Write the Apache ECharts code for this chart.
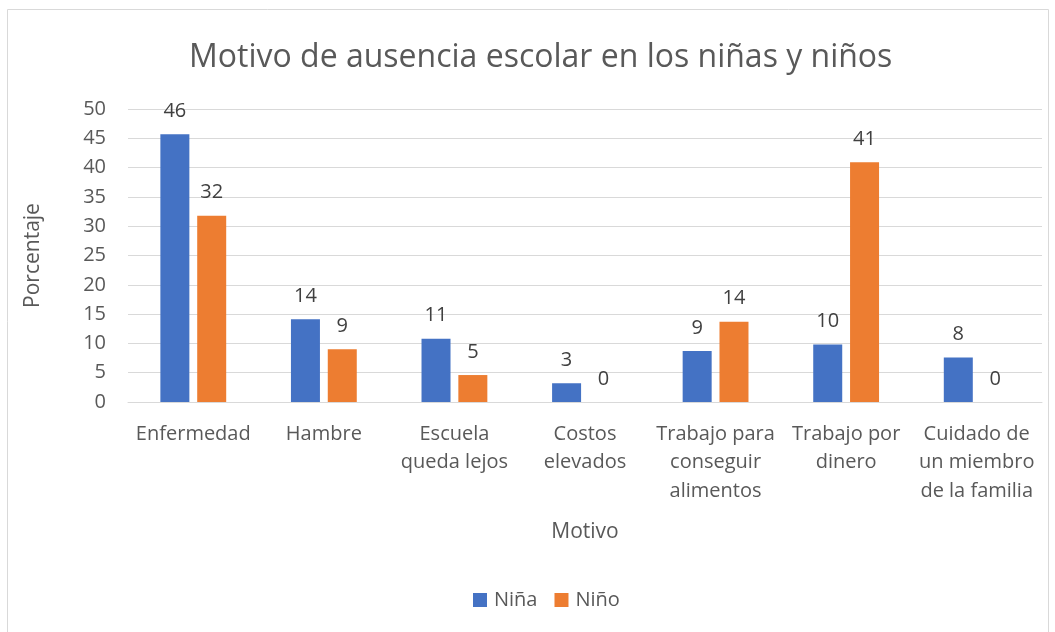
<!DOCTYPE html>
<html><head><meta charset="utf-8">
<script src="https://cdn.jsdelivr.net/npm/echarts@6/dist/echarts.min.js"></script>
<style>html,body{margin:0;padding:0;background:#fff}#c{width:1055px;height:632px}</style>
</head><body><div id="c"></div>
<script>
const categories = ["Enfermedad","Hambre","Escuela\nqueda lejos","Costos\nelevados","Trabajo para\nconseguir\nalimentos","Trabajo por\ndinero","Cuidado de\nun miembro\nde la familia"];
const nina = [45.7, 14.1, 10.8, 3.2, 8.7, 9.8, 7.6];
const nino = [31.8, 9.0, 4.6, 0, 13.7, 40.9, 0];
const seriesNames = ["Niña","Niño"];
const yTicks = [0, 50, 5];
const FONT = "'Open Sans', 'Noto Sans', sans-serif";
const chart = echarts.init(document.getElementById('c'), null, {renderer:'canvas'});
const lbl = {show:true, position:'top', distance:13, color:'#404040', fontSize:20, fontFamily:FONT, formatter:p=>Math.round(p.value)};
chart.setOption({
  animation:false,
  textStyle:{fontFamily:FONT},
  graphic:[{type:'rect', shape:{x:7.5,y:9.5,width:1041,height:640}, style:{fill:'none', stroke:'#d9d9d9', lineWidth:1}}],
  title:{text:"Motivo de ausencia escolar en los niñas y niños", left:184, top:37, textStyle:{fontSize:32, fontWeight:'normal', color:'#595959', fontFamily:FONT}},
  legend:{bottom:17, left:468, itemWidth:14, itemHeight:14, itemGap:17, icon:'rect', textStyle:{fontSize:20, color:'#595959', fontFamily:FONT, padding:[0,0,0,2]}, data:seriesNames},
  grid:{left:128, right:13, top:109, bottom:230},
  xAxis:{type:'category', data:categories, name:'Motivo', nameLocation:'middle', nameGap:120, nameTextStyle:{fontSize:21, color:'#595959', fontFamily:FONT},
    axisLine:{lineStyle:{color:'#d9d9d9'}}, axisTick:{show:false},
    axisLabel:{interval:0, margin:18, fontSize:20, color:'#595959', lineHeight:28.5, fontFamily:FONT}},
  yAxis:{type:'value', min:yTicks[0], max:yTicks[1], interval:yTicks[2], name:'Porcentaje', nameLocation:'middle', nameGap:84, nameRotate:90,
    nameTextStyle:{fontSize:21, color:'#595959', fontFamily:FONT},
    axisLine:{show:false}, axisTick:{show:false},
    axisLabel:{margin:22, fontSize:20, color:'#595959', fontFamily:FONT},
    splitLine:{lineStyle:{color:'#d9d9d9', width:1}}},
  series:[
    {name:seriesNames[0], type:'bar', data:nina, barWidth:29, barGap:'27%', itemStyle:{color:'#4472c4'}, label:lbl},
    {name:seriesNames[1], type:'bar', data:nino, barWidth:29, barGap:'27%', itemStyle:{color:'#ed7d31'}, label:lbl}
  ]
});
</script></body></html>
